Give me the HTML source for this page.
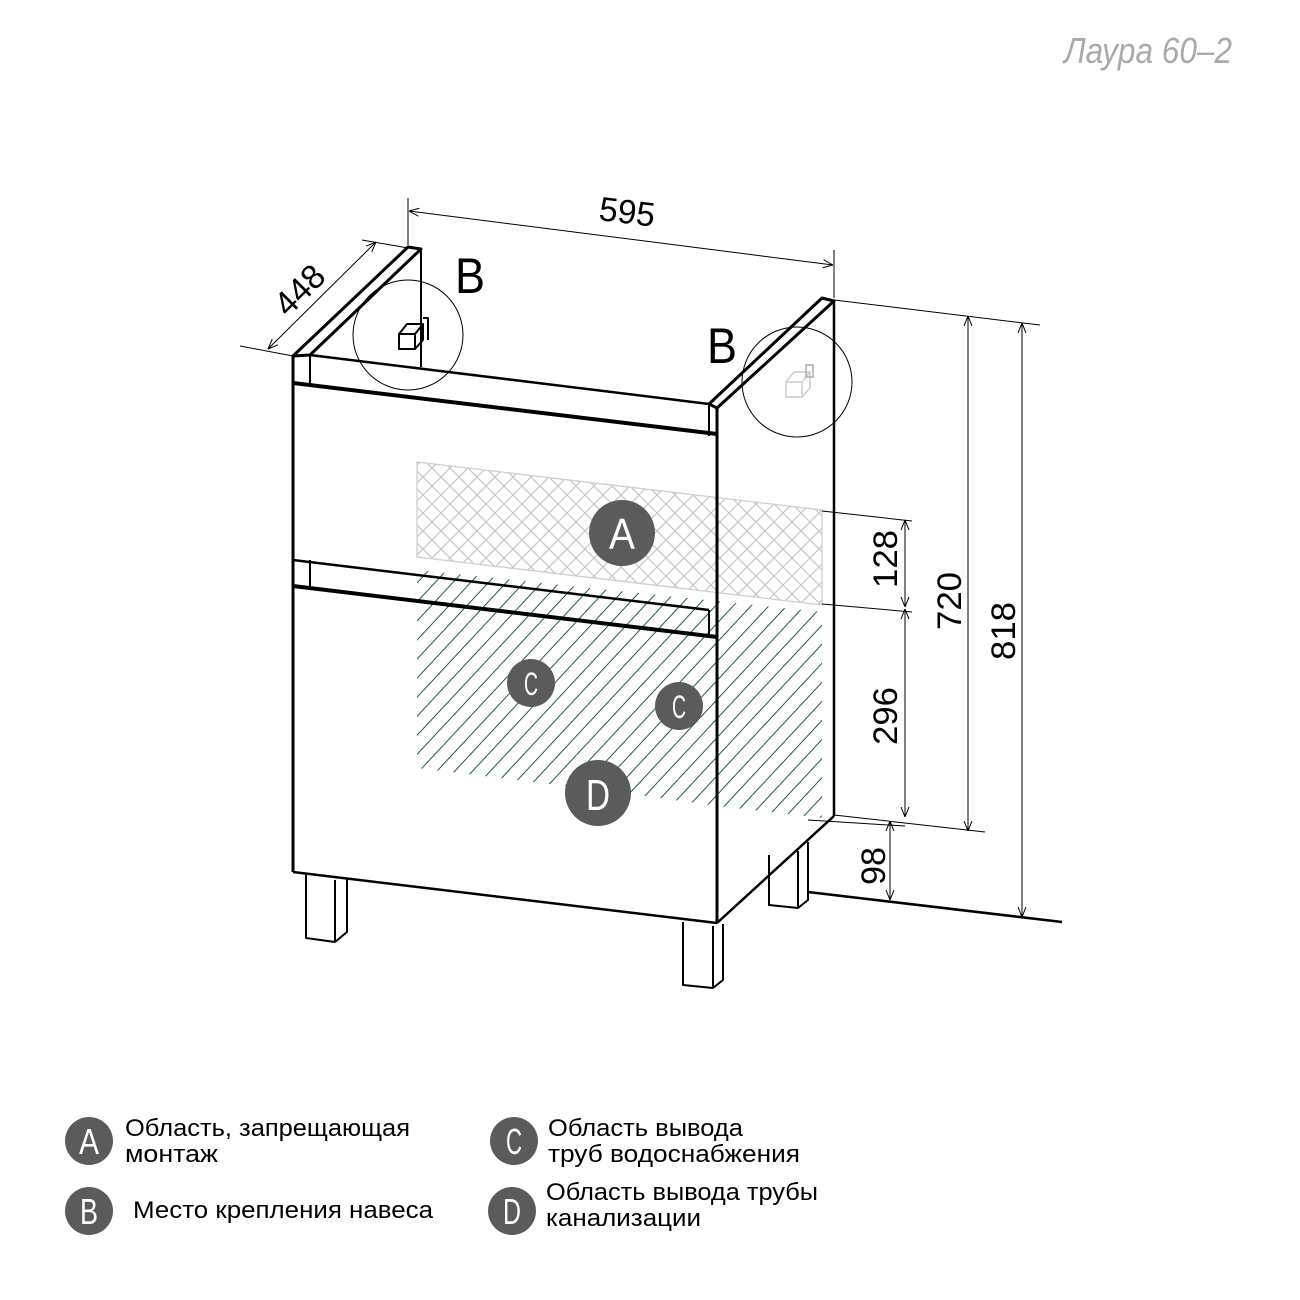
<!DOCTYPE html>
<html><head><meta charset="utf-8"><style>html,body{margin:0;padding:0;background:#fff}svg{display:block}</style></head>
<body>
<svg width="1300" height="1300" viewBox="0 0 1300 1300" xmlns="http://www.w3.org/2000/svg" font-family="Liberation Sans, DejaVu Sans, sans-serif">
<defs>
<pattern id="cross" patternUnits="userSpaceOnUse" width="18" height="18">
<path d="M0 0L18 18M18 0L0 18" stroke="#c8c8c8" stroke-width="1.3" fill="none"/>
</pattern>
<pattern id="diag" patternUnits="userSpaceOnUse" width="13" height="13" patternTransform="rotate(43)">
<line x1="0" y1="0" x2="0" y2="13" stroke="#1d5e3c" stroke-width="2"/>
</pattern>
<marker id="ar" viewBox="0 0 10 10" refX="10" refY="5" markerWidth="10" markerHeight="10" orient="auto-start-reverse" markerUnits="userSpaceOnUse">
<path d="M0 1L10 5L0 9" fill="none" stroke="#000" stroke-width="1"/>
</marker>
</defs>

<text x="1232" y="63" text-anchor="end" font-size="36" font-style="italic" fill="#aaa" textLength="168" lengthAdjust="spacingAndGlyphs">Лаура 60–2</text>

<polygon points="417,462 822,510 822,605 417,557" fill="url(#cross)" stroke="#cfcfcf" stroke-width="1.3"/>
<polygon points="417,570 822,612 822,818 717,806 600,790 417,768" fill="url(#diag)"/>

<g fill="none" stroke="#000" stroke-linejoin="round">
<path d="M293,356 L408,247 L421,249 L310,355 Z" stroke-width="3"/>
<line x1="421" y1="249" x2="421" y2="367" stroke-width="2"/>
<line x1="310" y1="355" x2="709" y2="404" stroke-width="2.5"/>
<line x1="310" y1="355" x2="310" y2="384" stroke-width="2"/>
<path d="M709,404 L822,298 L834,301 L717,408 Z" stroke-width="3"/>
<line x1="709" y1="404" x2="709" y2="436" stroke-width="2"/>
<line x1="834" y1="301" x2="834" y2="816" stroke-width="2.5"/>
<line x1="717" y1="408" x2="717" y2="923" stroke-width="3"/>
<line x1="293" y1="356" x2="293" y2="872" stroke-width="3"/>
<line x1="293" y1="383" x2="717" y2="434" stroke-width="4"/>
<line x1="293" y1="560" x2="709" y2="610" stroke-width="2.5"/>
<line x1="310" y1="560" x2="310" y2="586" stroke-width="2"/>
<line x1="709" y1="610" x2="709" y2="637" stroke-width="2"/>
<line x1="293" y1="586" x2="717" y2="637" stroke-width="4"/>
<line x1="293" y1="872" x2="717" y2="923" stroke-width="2.5"/>
<line x1="717" y1="923" x2="834" y2="816" stroke-width="2.5"/>
<path d="M306,875 L306,938 L335,942 L347,932 L347,878" stroke-width="2"/>
<line x1="335" y1="880" x2="335" y2="942" stroke-width="2"/>
<path d="M683,922 L683,985 L713,988 L723,980 L723,924" stroke-width="2"/>
<line x1="713" y1="926" x2="713" y2="988" stroke-width="2"/>
<path d="M769,855 L769,905 L798,908 L808,900 L808,842" stroke-width="2"/>
<line x1="798" y1="851" x2="798" y2="908" stroke-width="2"/>
<line x1="808" y1="892" x2="1062" y2="922" stroke-width="2.5"/>
<path d="M399,334 L415,334 L415,349 L399,349 Z M399,334 L407,324 L423,324 L415,334 M423,324 L423,340 L415,349" stroke-width="2"/>
<path d="M423,318 L428,318 L428,340" stroke-width="2"/>
</g>
<path d="M786,382 L802,382 L802,397 L786,397 Z M786,382 L794,372 L810,372 L802,382 M810,372 L810,388 L802,397" fill="none" stroke="#ccc" stroke-width="1.5"/>
<rect x="806" y="365" width="7" height="12" fill="none" stroke="#aaa" stroke-width="1.5"/>

<circle cx="408" cy="335" r="55" fill="none" stroke="#000" stroke-width="1"/>
<circle cx="797" cy="382" r="55" fill="none" stroke="#000" stroke-width="1"/>
<text x="455" y="293" font-size="50" textLength="30" lengthAdjust="spacingAndGlyphs">B</text>
<text x="707" y="363" font-size="50" textLength="30" lengthAdjust="spacingAndGlyphs">B</text>

<g stroke="#000" stroke-width="1" fill="none">
<line x1="408" y1="198" x2="408" y2="245"/>
<line x1="834" y1="250" x2="834" y2="298"/>
<line x1="409" y1="211" x2="833" y2="265" marker-start="url(#ar)" marker-end="url(#ar)"/>
<line x1="240" y1="346" x2="293" y2="356"/>
<line x1="362" y1="240" x2="408" y2="248"/>
<line x1="268" y1="349" x2="376" y2="242" marker-start="url(#ar)" marker-end="url(#ar)"/>
<line x1="834" y1="300" x2="1040" y2="325"/>
<line x1="834" y1="815" x2="985" y2="832"/>
<line x1="822" y1="511" x2="912" y2="521"/>
<line x1="822" y1="604" x2="912" y2="612"/>
<line x1="808" y1="820" x2="905" y2="826"/>
<line x1="1022" y1="323" x2="1022" y2="917" marker-start="url(#ar)" marker-end="url(#ar)"/>
<line x1="968" y1="316" x2="968" y2="831" marker-start="url(#ar)" marker-end="url(#ar)"/>
<line x1="905" y1="520" x2="905" y2="607" marker-start="url(#ar)" marker-end="url(#ar)"/>
<line x1="905" y1="609" x2="905" y2="817" marker-start="url(#ar)" marker-end="url(#ar)"/>
<line x1="890" y1="821" x2="890" y2="900" marker-start="url(#ar)" marker-end="url(#ar)"/>
</g>
<g font-size="34" fill="#000">
<text transform="translate(598,220) rotate(7)" textLength="56" lengthAdjust="spacingAndGlyphs">595</text>
<text transform="translate(288,318) rotate(-45)" textLength="56" lengthAdjust="spacingAndGlyphs">448</text>
<text transform="translate(897,588) rotate(-90)" textLength="58" lengthAdjust="spacingAndGlyphs">128</text>
<text transform="translate(961,630) rotate(-90)" textLength="58" lengthAdjust="spacingAndGlyphs">720</text>
<text transform="translate(1015,660) rotate(-90)" textLength="58" lengthAdjust="spacingAndGlyphs">818</text>
<text transform="translate(897,745) rotate(-90)" textLength="58" lengthAdjust="spacingAndGlyphs">296</text>
<text transform="translate(885,885) rotate(-90)" textLength="38" lengthAdjust="spacingAndGlyphs">98</text>
</g>

<g fill="#5b5b5b">
<circle cx="622" cy="533" r="33"/>
<circle cx="531" cy="683" r="24"/>
<circle cx="679" cy="706" r="24"/>
<circle cx="598" cy="793" r="33"/>
</g>
<g fill="#fff" font-size="44" text-anchor="middle">
<text x="622" y="549" textLength="26" lengthAdjust="spacingAndGlyphs">A</text>
<text x="598" y="810" textLength="24" lengthAdjust="spacingAndGlyphs">D</text>
<text x="531" y="695" font-size="32" textLength="14" lengthAdjust="spacingAndGlyphs">C</text>
<text x="679" y="718" font-size="32" textLength="14" lengthAdjust="spacingAndGlyphs">C</text>
</g>

<g fill="#5b5b5b">
<circle cx="89" cy="1141" r="24"/>
<circle cx="89" cy="1211" r="24"/>
<circle cx="514" cy="1141" r="24"/>
<circle cx="512" cy="1211" r="24"/>
</g>
<g fill="#fff" font-size="36" text-anchor="middle">
<text x="89" y="1154" textLength="20" lengthAdjust="spacingAndGlyphs">A</text>
<text x="89" y="1224" textLength="18" lengthAdjust="spacingAndGlyphs">B</text>
<text x="514" y="1154" textLength="16" lengthAdjust="spacingAndGlyphs">C</text>
<text x="512" y="1224" textLength="18" lengthAdjust="spacingAndGlyphs">D</text>
</g>
<g fill="#000" font-size="24">
<text x="125" y="1136" textLength="285" lengthAdjust="spacingAndGlyphs">Область, запрещающая</text>
<text x="125" y="1162" textLength="93" lengthAdjust="spacingAndGlyphs">монтаж</text>
<text x="133" y="1218" textLength="300" lengthAdjust="spacingAndGlyphs">Место крепления навеса</text>
<text x="548" y="1136" textLength="195" lengthAdjust="spacingAndGlyphs">Область вывода</text>
<text x="548" y="1162" textLength="252" lengthAdjust="spacingAndGlyphs">труб водоснабжения</text>
<text x="546" y="1200" textLength="272" lengthAdjust="spacingAndGlyphs">Область вывода трубы</text>
<text x="546" y="1226" textLength="155" lengthAdjust="spacingAndGlyphs">канализации</text>
</g>
</svg>
</body></html>
